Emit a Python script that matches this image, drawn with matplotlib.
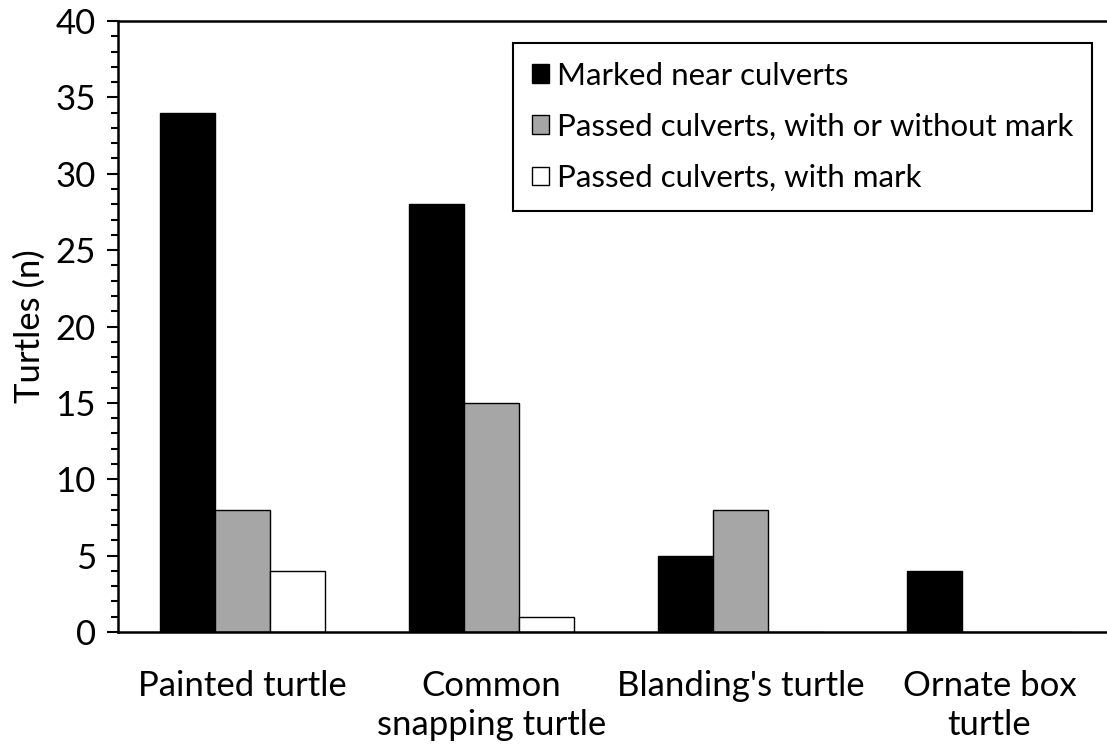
import matplotlib.pyplot as plt
import numpy as np
from matplotlib.ticker import MultipleLocator

plt.rcParams['font.family'] = ['Lato', 'DejaVu Sans']

species = ['Painted turtle', 'Common\nsnapping turtle', "Blanding's turtle", 'Ornate box\nturtle']
marked = [34, 28, 5, 4]
passed_any = [8, 15, 8, 0]
passed_marked = [4, 1, 0, 0]
series_names = ['Marked near culverts', 'Passed culverts, with or without mark', 'Passed culverts, with mark']

fig = plt.figure(figsize=(11.07, 7.49), dpi=100)
ax = fig.add_axes([118/1107, 1-632/749, 1-118/1107, (632-21)/749])

x = np.arange(len(species))
w = 0.221
ax.bar(x - w, marked, w, color='black', edgecolor='black', linewidth=1, label=series_names[0])
ax.bar(x, passed_any, w, color='#a6a6a6', edgecolor='black', linewidth=1, label=series_names[1])
ax.bar(x + w, passed_marked, w, color='white', edgecolor='black', linewidth=1, label=series_names[2])

ax.set_xlim(-0.5, 3.5 - 7/249)
ax.set_ylim(0, 40)
ax.yaxis.set_major_locator(MultipleLocator(5))
ax.yaxis.set_minor_locator(MultipleLocator(1))
ax.tick_params(axis='y', which='major', length=8, width=1.5, labelsize=25, pad=8)
ax.tick_params(axis='y', which='minor', length=5, width=1.5)
ax.set_xticks(x)
ax.set_xticklabels(species, fontsize=25, linespacing=1.3)
ax.tick_params(axis='x', length=0, pad=27)

ax.spines['right'].set_visible(False)
for s in ['left', 'bottom', 'top']:
    ax.spines[s].set_linewidth(1.8)

ax.set_ylabel('Turtles (n)', fontsize=25, labelpad=7)

leg = ax.legend(loc='upper right', bbox_to_anchor=(1092/1107, 1-43/749),
                bbox_transform=fig.transFigure, borderaxespad=0, fontsize=22.5,
                handlelength=0.55, handleheight=0.55, handletextpad=0.25,
                labelspacing=0.74, borderpad=0.6, fancybox=False, framealpha=1)
leg.get_frame().set_edgecolor('black')
leg.get_frame().set_linewidth(1.5)
for h in leg.legend_handles:
    h.set_linewidth(1)

fig.savefig('out.png', dpi=100)
